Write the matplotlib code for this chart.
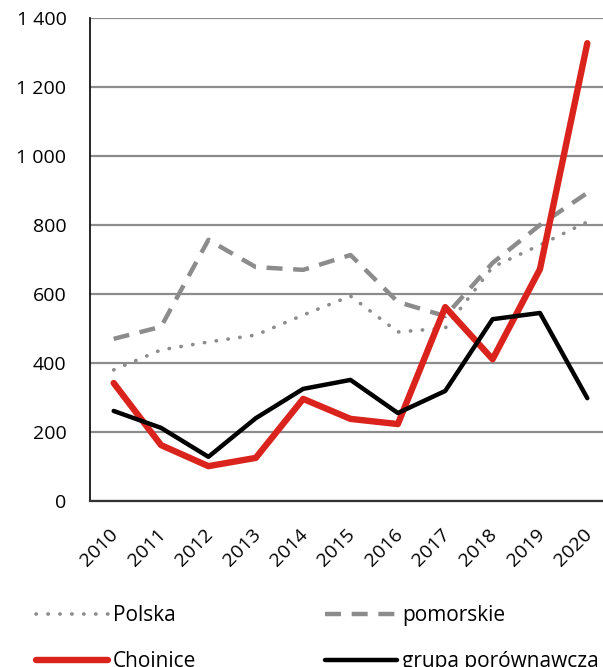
import matplotlib
matplotlib.use("Agg")
import matplotlib.pyplot as plt
import matplotlib.transforms as mtransforms
from matplotlib.ticker import FuncFormatter

years = ["2010", "2011", "2012", "2013", "2014", "2015", "2016", "2017", "2018", "2019", "2020"]
polska = [380, 438, 461, 481, 539, 594, 490, 501, 678, 742, 809]
pomorskie = [470, 505, 757, 678, 670, 713, 577, 536, 690, 800, 893]
chojnice = [342, 162, 101, 125, 296, 238, 223, 562, 411, 672, 1327]
grupa = [261, 212, 128, 240, 325, 351, 255, 319, 527, 545, 298]

plt.rcParams['font.family'] = ['Open Sans', 'DejaVu Sans']

fig = plt.figure(figsize=(6.03, 6.67), dpi=100)
ax = fig.add_axes([90/603, 1-501/667, 521/603, 483/667])
x = list(range(len(years)))

l_pol, = ax.plot(x, polska, color='#8c8c8c', lw=2.6, linestyle=(0, (0.1, 3.2)),
                 dash_capstyle='round', solid_capstyle='round', label='Polska', zorder=3)
l_pom, = ax.plot(x, pomorskie, color='#8c8c8c', lw=3.2, linestyle=(0, (3.6, 2.4)),
                 label='pomorskie', zorder=3)
l_ch, = ax.plot(x, chojnice, color='#d9231c', lw=4.6, solid_capstyle='round',
                label='Chojnice', zorder=4)
l_gr, = ax.plot(x, grupa, color='#000000', lw=3.2, solid_capstyle='round',
                label='grupa porównawcza', zorder=5)

ax.set_xlim(-0.5, 10.5)
ax.set_ylim(0, 1400)
ax.set_yticks(range(0, 1401, 200))
ax.yaxis.set_major_formatter(FuncFormatter(lambda v, p: f"{int(v):,}".replace(",", " ")))
ax.grid(axis='y', color='#8c8c8c', lw=1.6)
ax.set_axisbelow(True)
for s in ['top', 'right']:
    ax.spines[s].set_visible(False)
ax.spines['left'].set_color('#000000')
ax.spines['left'].set_linewidth(1.2)
ax.spines['bottom'].set_color('#333333')
ax.spines['bottom'].set_linewidth(1.6)
ax.tick_params(axis='both', length=0, labelsize=14, colors='#000000')
ax.tick_params(axis='y', pad=17)
ax.set_xticks(x)
ax.set_xticklabels(years, rotation=45, ha='right', va='center', rotation_mode='anchor')
ax.tick_params(axis='x', pad=22)
off = mtransforms.ScaledTranslation(2/100, 0, fig.dpi_scale_trans)
for lab in ax.get_xticklabels():
    lab.set_transform(lab.get_transform() + off)

common = dict(frameon=False, fontsize=15, handlelength=3.45, handletextpad=0.25,
              labelspacing=1.2, borderpad=0, borderaxespad=0)
leg1 = fig.legend([l_pol, l_ch], ['Polska', 'Chojnice'], loc='upper left',
                  bbox_to_anchor=(36/603, 1-605/667), **common)
leg2 = fig.legend([l_pom, l_gr], ['pomorskie', 'grupa porównawcza'], loc='upper left',
                  bbox_to_anchor=(325/603, 1-605/667), **common)

fig.savefig("out.png", dpi=100)
